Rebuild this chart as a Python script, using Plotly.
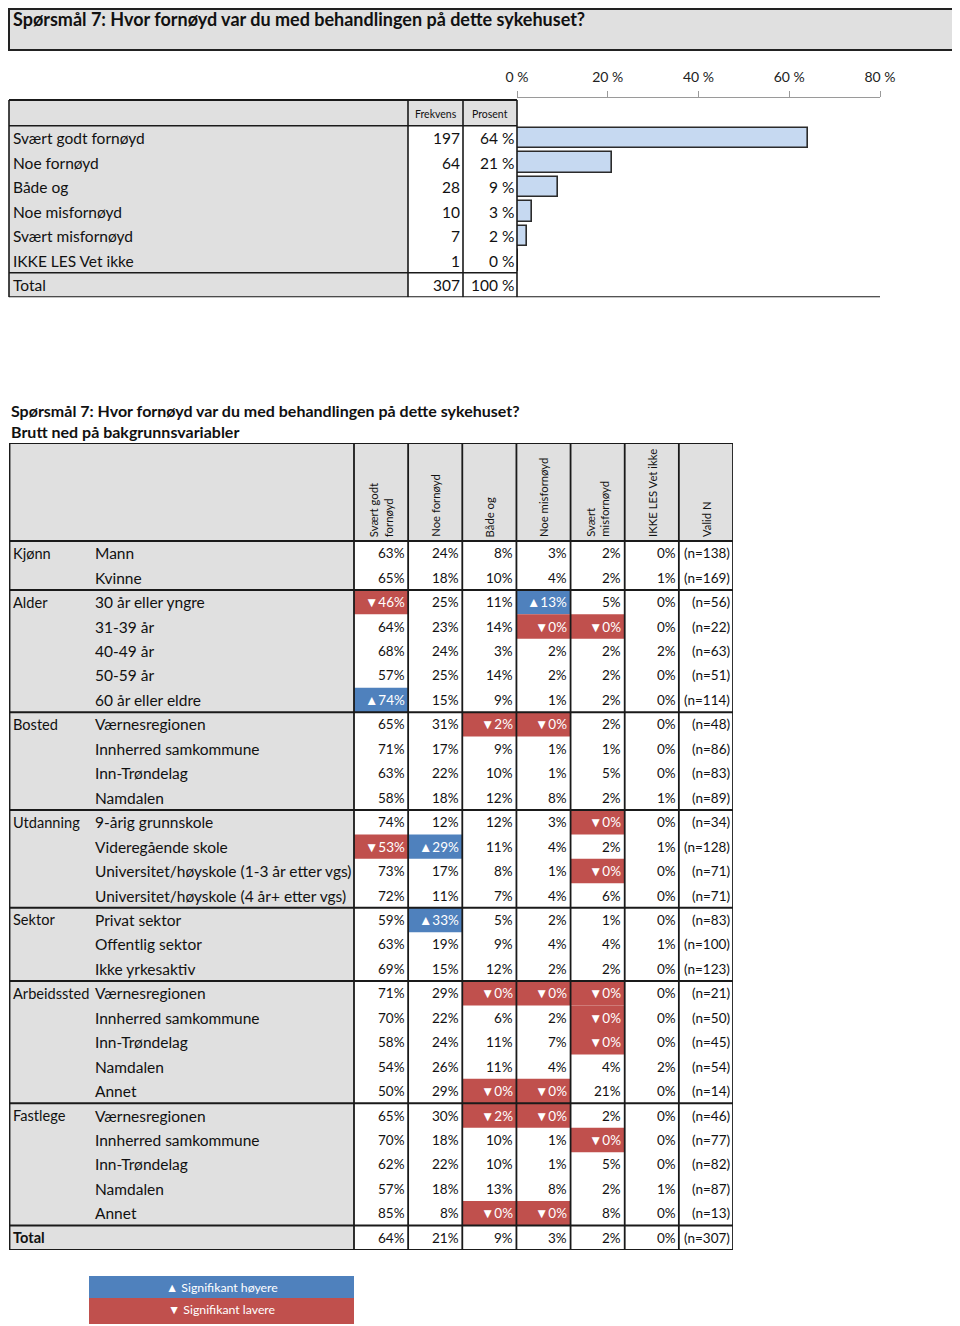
import plotly.graph_objects as go

# ---------------- data ----------------
title_text = "Spørsmål 7: Hvor fornøyd var du med behandlingen på dette sykehuset?"
subtitle_text = "Brutt ned på bakgrunnsvariabler"

top_categories = ["Svært godt fornøyd", "Noe fornøyd", "Både og", "Noe misfornøyd",
                  "Svært misfornøyd", "IKKE LES Vet ikke"]
top_freq = [197, 64, 28, 10, 7, 1]
top_pct_labels = ["64 %", "21 %", "9 %", "3 %", "2 %", "0 %"]
top_total_label = "Total"
top_total_freq = 307
top_total_pct = "100 %"
top_headers = ["Frekvens", "Prosent"]
axis_tickvals = [0, 20, 40, 60, 80]
axis_ticktext = ["0 %", "20 %", "40 %", "60 %", "80 %"]

col_headers = ["Svært godt<br>fornøyd", "Noe fornøyd", "Både og", "Noe misfornøyd",
               "Svært<br>misfornøyd", "IKKE LES Vet ikke", "Valid N"]

groups = ["Kjønn", "Alder", "Bosted", "Utdanning", "Sektor", "Arbeidssted", "Fastlege", "Total"]
group_sizes = [2, 5, 4, 4, 3, 5, 5, 1]
row_labels = ["Mann", "Kvinne",
              "30 år eller yngre", "31-39 år", "40-49 år", "50-59 år", "60 år eller eldre",
              "Værnesregionen", "Innherred samkommune", "Inn-Trøndelag", "Namdalen",
              "9-årig grunnskole", "Videregående skole", "Universitet/høyskole (1-3 år etter vgs)",
              "Universitet/høyskole (4 år+ etter vgs)",
              "Privat sektor", "Offentlig sektor", "Ikke yrkesaktiv",
              "Værnesregionen", "Innherred samkommune", "Inn-Trøndelag", "Namdalen", "Annet",
              "Værnesregionen", "Innherred samkommune", "Inn-Trøndelag", "Namdalen", "Annet",
              ""]
svaert_godt = [63, 65, 46, 64, 68, 57, 74, 65, 71, 63, 58, 74, 53, 73, 72, 59, 63, 69, 71, 70, 58, 54, 50, 65, 70, 62, 57, 85, 64]
noe_fornoyd = [24, 18, 25, 23, 24, 25, 15, 31, 17, 22, 18, 12, 29, 17, 11, 33, 19, 15, 29, 22, 24, 26, 29, 30, 18, 22, 18, 8, 21]
bade_og = [8, 10, 11, 14, 3, 14, 9, 2, 9, 10, 12, 12, 11, 8, 7, 5, 9, 12, 0, 6, 11, 11, 0, 2, 10, 10, 13, 0, 9]
noe_misfornoyd = [3, 4, 13, 0, 2, 2, 1, 0, 1, 1, 8, 3, 4, 1, 4, 2, 4, 2, 0, 2, 7, 4, 0, 0, 1, 1, 8, 0, 3]
svaert_misfornoyd = [2, 2, 5, 0, 2, 2, 2, 2, 1, 5, 2, 0, 2, 0, 6, 1, 4, 2, 0, 0, 0, 4, 21, 2, 0, 5, 2, 8, 2]
ikke_les = [0, 1, 0, 0, 2, 0, 0, 0, 0, 0, 1, 0, 1, 0, 0, 0, 1, 0, 0, 0, 0, 2, 0, 0, 0, 0, 1, 0, 0]
valid_n = [138, 169, 56, 22, 63, 51, 114, 48, 86, 83, 89, 34, 128, 71, 71, 83, 100, 123, 21, 50, 45, 54, 14, 46, 77, 82, 87, 13, 307]
# significance per row: one char per percentage column, H = higher, L = lower
significance = ["......", "......",
                "L..H..", "...LL.", "......", "......", "H.....",
                "..LL..", "......", "......", "......",
                "....L.", "LH....", "....L.", "......",
                ".H....", "......", "......",
                "..LLL.", "....L.", "....L.", "......", "..LL..",
                "..LL..", "....L.", "......", "......", "..LL..",
                "......"]
legend_labels = ["▲ Signifikant høyere", "▼ Signifikant lavere"]

# ---------------- styling / geometry ----------------
# The page places the figure 8px from the top-left corner; positions below are
# given in page pixels and converted to figure paper fractions.
PAGE_OFF = 8
MIN_PX = 9
W, H = 952, 1318
FONT = "Lato"
GRAY = "#e0e0e0"
INK = "#111111"
LINE = "#1a1a1a"
BLUE = "#4f81bd"
RED = "#c0504d"
BAR_FILL = "#c6d9f1"
LEFT_TEXT = 12.5


def px(x):
    return (max(x, MIN_PX) - PAGE_OFF) / W


def py(y):
    return 1 - (max(y, MIN_PX) - PAGE_OFF) / H


fig = go.Figure()
shapes = []
ann = []


def rect(x0, y0, x1, y1, fill, xref="paper", yref="paper", line=None):
    shapes.append(dict(type="rect", xref=xref, yref=yref, x0=x0, y0=y0, x1=x1, y1=y1,
                       fillcolor=fill, line=line or dict(width=0), layer="below"))


def seg(x0, y0, x1, y1, width=1.8, xref="paper", yref="paper", color=LINE):
    shapes.append(dict(type="line", xref=xref, yref=yref, x0=x0, y0=y0, x1=x1, y1=y1,
                       line=dict(color=color, width=width), layer="above"))


def text(x, y, s, size=15.5, xanchor="left", xref="paper", yref="paper", color=INK,
         weight="normal", **kw):
    ann.append(dict(x=x, y=y, xref=xref, yref=yref, text=s, showarrow=False,
                    xanchor=xanchor, yanchor=kw.pop("yanchor", "middle"),
                    borderpad=0, borderwidth=0,
                    font=dict(family=FONT, size=size, color=color, weight=weight), **kw))


# ---- title box ----
rect(px(2), py(50), px(957), py(2), GRAY, line=dict(color="#222", width=2))
text(px(LEFT_TEXT), py(19), title_text, size=18, weight="bold")

# ---- top table / bar chart ----
t_first = 138.0
t_rowh = 24.5
t_dom_top, t_dom_bot = 98.0, t_first + 6.5 * t_rowh


def trow(ypx):
    return (ypx - t_first) / t_rowh


n_top = len(top_categories)
t_head_top = trow(100)
t_end = n_top + 0.5

rect(px(2), t_head_top, px(408), t_end, GRAY, yref="y")
rect(px(408), t_head_top, px(517), -0.5, GRAY, yref="y")

top_pct_values = [f / top_total_freq * 100 for f in top_freq]
fig.add_trace(go.Bar(
    x=top_pct_values, y=list(range(n_top)), orientation="h", width=0.83,
    marker=dict(color=BAR_FILL, line=dict(color="#2b2b2b", width=1.6)),
    xaxis="x", yaxis="y", hoverinfo="skip", showlegend=False))

for i, cat in enumerate(top_categories):
    text(px(LEFT_TEXT), i, cat, yref="y")
    text(px(460), i, str(top_freq[i]), xanchor="right", yref="y")
    text(px(514), i, top_pct_labels[i], xanchor="right", yref="y")
text(px(LEFT_TEXT), n_top, top_total_label, yref="y")
text(px(460), n_top, str(top_total_freq), xanchor="right", yref="y")
text(px(514), n_top, top_total_pct, xanchor="right", yref="y")
text(px(436), trow(114), top_headers[0], size=10.5, xanchor="center", yref="y")
text(px(490), trow(114), top_headers[1], size=10.5, xanchor="center", yref="y")

seg(px(2), t_head_top, px(517), t_head_top, 2.2, yref="y")
seg(px(2), -0.5, px(517), -0.5, 1.6, yref="y")
seg(px(2), n_top - 0.5, px(517), n_top - 0.5, 1.6, yref="y")
seg(px(2), t_end, px(880), t_end, 2.2, yref="y")
for xv in (2, 408, 463, 517):
    seg(px(xv), t_head_top, px(xv), t_end, 1.6, yref="y")

# ---- lower table ----
text(px(LEFT_TEXT - 1.5), py(410), title_text, size=16, weight="bold")
text(px(LEFT_TEXT - 1.5), py(432), subtitle_text, size=16, weight="bold")

bt_left, bt_label_right, bt_right = float(MIN_PX), 354.0, 733.0
bt_top, bt_head_bot, bt_bot = 443.0, 541.0, 1250.0
n_rows = len(row_labels)
n_cols = len(col_headers)
col_w = (bt_right - bt_label_right) / n_cols
row_h = (bt_bot - bt_head_bot) / n_rows
head_units = (bt_head_bot - bt_top) / row_h
label_units = (bt_label_right - bt_left) / col_w


def x2(xpx):
    return (xpx - bt_label_right) / col_w


rect(-label_units, -head_units, 0, n_rows, GRAY, xref="x2", yref="y2")
rect(0, -head_units, n_cols, 0, GRAY, xref="x2", yref="y2")

pct_cols = [svaert_godt, noe_fornoyd, bade_og, noe_misfornoyd, svaert_misfornoyd, ikke_les]

for j, h in enumerate(col_headers):
    text(j + 0.5, -0.16, h, size=11.3, xanchor="center", xref="x2", yref="y2",
         textangle=-90, yanchor="bottom", align="left")

for r in range(n_rows):
    yc = r + 0.5
    for j, col in enumerate(pct_cols):
        flag = significance[r][j]
        val = f"{col[r]}%"
        color = INK
        if flag == "H":
            rect(j, r, j + 1, r + 1, BLUE, xref="x2", yref="y2")
            val = "▲" + val
            color = "white"
        elif flag == "L":
            rect(j, r, j + 1, r + 1, RED, xref="x2", yref="y2")
            val = "▼" + val
            color = "white"
        text(j + 1 - 0.06, yc, val, size=13.5, xanchor="right", xref="x2", yref="y2", color=color)
    text(n_cols - 0.06, yc, f"(n={valid_n[r]})", size=13.5, xanchor="right", xref="x2", yref="y2")
    text(x2(95), yc, row_labels[r], xref="x2", yref="y2")

start = 0
for g, size in zip(groups, group_sizes):
    is_total = g == "Total"
    text(x2(LEFT_TEXT), start + 0.5, g, size=14.6, xref="x2", yref="y2",
         weight="bold" if is_total else "normal")
    seg(-label_units, start, n_cols, start, 2.0, xref="x2", yref="y2")
    start += size
seg(-label_units, n_rows, n_cols, n_rows, 2.2, xref="x2", yref="y2")
seg(-label_units, n_rows + 0.13, n_cols + 0.08, n_rows + 0.13, 1.4, xref="x2", yref="y2")
seg(-label_units, -head_units, n_cols, -head_units, 2.2, xref="x2", yref="y2")
seg(-label_units + 0.01, -head_units, -label_units + 0.01, n_rows, 1.8, xref="x2", yref="y2")
for j in range(n_cols + 1):
    seg(j, -head_units, j, n_rows, 1.8, xref="x2", yref="y2")

# ---- significance legend ----
rect(px(89), py(1298), px(354), py(1276), BLUE)
rect(px(89), py(1324), px(354), py(1298), RED)
text(px(222), py(1287), legend_labels[0], size=12.3, xanchor="center", color="white")
text(px(222), py(1309), legend_labels[1], size=12.3, xanchor="center", color="white")

fig.update_layout(
    template="none",
    width=W, height=H, autosize=False,
    margin=dict(l=0, r=0, t=0, b=0, pad=0, autoexpand=False),
    paper_bgcolor="white", plot_bgcolor="rgba(0,0,0,0)",
    showlegend=False, bargap=0,
    font=dict(family=FONT, color=INK),
    xaxis=dict(domain=[px(517), px(880)], range=[0, 80], side="top", anchor="y",
               tickvals=axis_tickvals, ticktext=axis_ticktext, ticks="outside", ticklen=6,
               tickcolor="#9a9a9a", showline=True, linecolor="#9a9a9a", linewidth=1,
               showgrid=False, zeroline=False, fixedrange=True, ticklabelstandoff=3,
               automargin=False, tickfont=dict(family=FONT, size=14, color="#222")),
    yaxis=dict(domain=[py(t_dom_bot), py(t_dom_top)], range=[trow(t_dom_bot), trow(t_dom_top)],
               visible=False, fixedrange=True, automargin=False),
    xaxis2=dict(domain=[px(bt_left), px(bt_right)], range=[-label_units, n_cols],
                visible=False, fixedrange=True, anchor="y2", automargin=False),
    yaxis2=dict(domain=[py(bt_bot), py(bt_top)], range=[n_rows, -head_units],
                visible=False, fixedrange=True, anchor="x2", automargin=False),
    shapes=shapes, annotations=ann,
)

fig.write_html("out.html")
